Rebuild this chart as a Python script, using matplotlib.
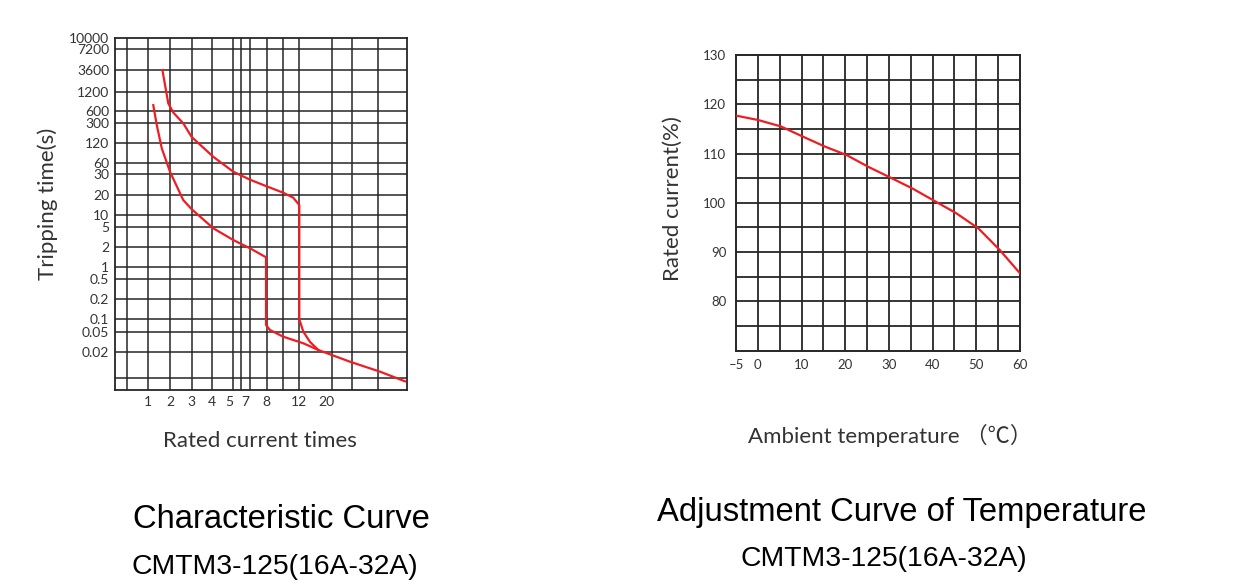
import numpy as np
import matplotlib.pyplot as plt

# ---- left chart: tripping characteristic ----
# rated current multiple -> position on the drawing (the grid is not uniform)
cur_anchor_val = [0, 0.5, 1, 2, 3, 4, 5, 6, 7, 8, 10, 12, 20, 30, 50, 100]
cur_anchor_pos = [0, 11.7, 33.3, 55, 76.7, 97.3, 118.3, 126, 135, 151.7, 168.3, 184.3, 216.7, 236.7, 263.3, 291.7]
# tripping time (s) -> position
t_anchor_val = [0.003, 0.005, 0.02, 0.05, 0.1, 0.2, 0.5, 1, 2, 5, 10, 20, 30, 60, 120,
                300, 600, 1200, 3600, 7200, 10000]
t_anchor_pos = [0, 12.3, 38.3, 58.3, 70.7, 90.7, 110.7, 123.3, 142.7, 162.7, 175, 195, 215.7,
                226.7, 246.7, 266.7, 279, 298.3, 320, 341, 351.7]

t_ticks = [0.02, 0.05, 0.1, 0.2, 0.5, 1, 2, 5, 10, 20, 30, 60, 120, 300, 600, 1200, 3600, 7200, 10000]
t_ticklabels = ['0.02', '0.05', '0.1', '0.2', '0.5', '1', '2', '5', '10', '20', '30', '60', '120',
                '300', '600', '1200', '3600', '7200', '10000']
cur_ticks = [1, 2, 3, 4, 4.8, 6.45, 8, 12, 18.8]
cur_ticklabels = ['1', '2', '3', '4', '5', '7', '8', '12', '20']

# upper curve
upper_x = [1.65, 1.92, 2.15, 2.61, 3.0, 4.05, 5.0, 7.0, 8.0, 10.0, 11.25, 12.0, 12.0, 13.0, 14.6, 16.7]
upper_y = [3600, 790, 550, 300, 160, 75, 35.3, 27.0, 23.7, 20.9, 18.2, 14.1, 0.1, 0.05, 0.0316, 0.0216]
# lower curve
lower_x = [1.23, 1.39, 1.62, 2.0, 2.61, 3.0, 4.05, 5.0, 7.0, 7.96, 7.96, 8.4, 10.0, 13.0, 16.7,
           29.2, 53.0, 97.0]
lower_y = [740, 278, 101, 35.3, 16.8, 12.2, 4.77, 2.79, 1.93, 1.40, 0.0727, 0.0549, 0.0397,
           0.0294, 0.0216, 0.0117, 0.0069, 0.0043]

# ---- right chart: temperature adjustment ----
temp = [-5, 0.1, 5.3, 10.4, 15.4, 20.3, 25.3, 30.4, 35.4, 40.4, 45.4, 50.5, 55.4, 60]
rated_pct = [117.7, 116.8, 115.5, 113.4, 111.4, 109.7, 107.3, 105.1, 102.9, 100.4, 97.9, 94.8, 90.4, 85.7]
temp_ticks = [-5, 0, 10, 20, 30, 40, 50, 60]
temp_ticklabels = ['\u20135', '0', '10', '20', '30', '40', '50', '60']
pct_ticks = [80, 90, 100, 110, 120, 130]

W, H = 1257, 583
fig = plt.figure(figsize=(W / 100, H / 100), dpi=100)

red = '#ee1d23'
gridc = '#262626'
txtc = '#333333'
lab_font = ['Lato', 'DejaVu Sans']


def box(l, t, r, b):
    return [l / W, 1 - b / H, (r - l) / W, (b - t) / H]


# left axes
ax1 = fig.add_axes(box(115, 38.3, 406.7, 390))


def cur_fwd(v):
    return np.interp(v, cur_anchor_val, cur_anchor_pos)


def cur_inv(p):
    return np.interp(p, cur_anchor_pos, cur_anchor_val)


t_log = np.log10(t_anchor_val)


def t_fwd(v):
    return np.interp(np.log10(np.clip(v, 1e-6, None)), t_log, t_anchor_pos)


def t_inv(p):
    return 10 ** np.interp(p, t_anchor_pos, t_log)


ax1.set_xscale('function', functions=(cur_fwd, cur_inv))
ax1.set_yscale('function', functions=(t_fwd, t_inv))
ax1.set_xlim(0, 100)
ax1.set_ylim(0.003, 10000)

for v in cur_anchor_val[1:-1]:
    ax1.axvline(v, color=gridc, lw=1.1, zorder=1)
for v in t_anchor_val[1:-1]:
    ax1.axhline(v, color=gridc, lw=1.1, zorder=1)

ax1.plot(upper_x, upper_y, color=red, lw=1.6, zorder=3)
ax1.plot(lower_x, lower_y, color=red, lw=1.6, zorder=3)

ax1.set_xticks(cur_ticks)
ax1.set_xticklabels(cur_ticklabels)
ax1.set_yticks(t_ticks)
ax1.set_yticklabels(t_ticklabels)
ax1.minorticks_off()
ax1.tick_params(axis='both', length=0, labelsize=10, colors=txtc)
ax1.tick_params(axis='x', pad=4)
ax1.tick_params(axis='y', pad=4)
for lbl in ax1.get_xticklabels() + ax1.get_yticklabels():
    lbl.set_family(lab_font)
for s in ax1.spines.values():
    s.set_color(gridc)
    s.set_linewidth(1.3)

# right axes
ax2 = fig.add_axes(box(736, 55, 1020, 350.7))
ax2.set_xlim(-5, 60)
ax2.set_ylim(70, 130)
for v in range(0, 60, 5):
    ax2.axvline(v, color=gridc, lw=1.3, zorder=1)
for v in range(75, 130, 5):
    ax2.axhline(v, color=gridc, lw=1.3, zorder=1)
ax2.plot(temp, rated_pct, color=red, lw=1.6, zorder=3)
ax2.set_xticks(temp_ticks)
ax2.set_xticklabels(temp_ticklabels)
ax2.set_yticks(pct_ticks)
ax2.tick_params(axis='both', length=0, labelsize=9.5, colors=txtc)
ax2.tick_params(axis='x', pad=6)
ax2.tick_params(axis='y', pad=7)
for lbl in ax2.get_xticklabels() + ax2.get_yticklabels():
    lbl.set_family(lab_font)
for s in ax2.spines.values():
    s.set_color(gridc)
    s.set_linewidth(1.4)

# axis labels
fig.text(48 / W, 1 - 204 / H, 'Tripping time(s)', rotation=90, ha='center', va='center',
         fontsize=16, color=txtc, family=lab_font)
fig.text(260 / W, 1 - 441 / H, 'Rated current times', ha='center', va='center',
         fontsize=16, color=txtc, family=lab_font)
fig.text(673 / W, 1 - 199 / H, 'Rated current(%)', rotation=90, ha='center', va='center',
         fontsize=16, color=txtc, family=lab_font)
fig.text(890 / W, 1 - 435 / H, 'Ambient temperature \uff08\u2103\uff09', ha='center', va='center',
         fontsize=16, color=txtc, family=['Lato', 'Noto Sans CJK SC', 'DejaVu Sans'])

# titles
fig.text(281 / W, 1 - 519 / H, 'Characteristic Curve', ha='center', va='center',
         fontsize=23.6, color='black', family='Liberation Sans')
fig.text(275 / W, 1 - 567 / H, 'CMTM3-125(16A-32A)', ha='center', va='center',
         fontsize=20.4, color='black', family='Liberation Sans')
fig.text(902 / W, 1 - 512 / H, 'Adjustment Curve of Temperature', ha='center', va='center',
         fontsize=23.6, color='black', family='Liberation Sans')
fig.text(884 / W, 1 - 559 / H, 'CMTM3-125(16A-32A)', ha='center', va='center',
         fontsize=20.4, color='black', family='Liberation Sans')

fig.savefig('out.png', dpi=100)
